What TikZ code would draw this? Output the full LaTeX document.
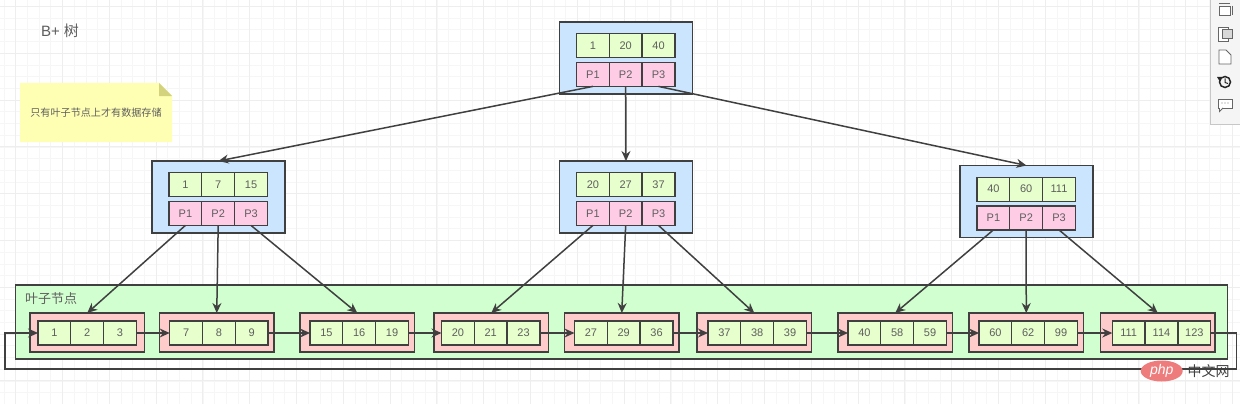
\documentclass[tikz,border=0pt]{standalone}
\usepackage{fontspec}
\setmainfont{Liberation Sans}
\newfontfamily\cjk{Noto Sans CJK SC}
\usetikzlibrary{arrows.meta,calc}
\definecolor{ink}{HTML}{404040}
\definecolor{txt}{HTML}{5E5E5E}
\definecolor{blueb}{HTML}{CCE5FF}
\definecolor{greenc}{HTML}{E6FFCC}
\definecolor{pinkc}{HTML}{FFCCE6}
\definecolor{rosec}{HTML}{FFCCCC}
\definecolor{leafbg}{HTML}{D2FFD0}
\definecolor{notey}{HTML}{FFFFB3}
\definecolor{notef}{HTML}{D3D37E}
\definecolor{gridmin}{HTML}{F6F6F6}
\definecolor{gridmaj}{HTML}{EEEEEE}
\definecolor{wmred}{HTML}{EE7C7C}
\tikzset{
  x=1pt,y=-1pt,
  every node/.style={outer sep=0pt,inner sep=0pt},
  panel/.style={draw=ink,line width=1.3pt,anchor=north west},
  cellbase/.style={draw=ink,line width=1.3pt,minimum width=32.8pt,minimum height=24pt,text=txt,font=\fontsize{11}{13}\selectfont},
  greencell/.style={cellbase,fill=greenc},
  pinkcell/.style={cellbase,fill=pinkc},
  link/.style={draw=ink,line width=1.5pt,-{Stealth[length=10pt,width=9pt]}},
  icon/.style={draw=black!60,line width=0.9pt,fill=white},
}
% \threecells{name}{left x}{centre y}{style}{a}{b}{c}
\newcommand{\threecells}[7]{%
  \node[#4] (#1a) at (#2+16.4,#3) {#5};
  \node[#4] (#1b) at (#2+49.2,#3) {#6};
  \node[#4] (#1c) at (#2+82,#3) {#7};
}
\newcommand{\treenode}[6]{%
  \node[panel,fill=blueb,minimum width=133pt,minimum height=72pt] (#1) at (#2,#3) {};
  \threecells{#1v}{#2+17}{#3+23.7}{greencell}{#4}{#5}{#6}
  \threecells{#1p}{#2+17}{#3+52.4}{pinkcell}{P1}{P2}{P3}
}
% \leafnode{name}{box x}{cells x}{a}{b}{c}
\newcommand{\leafnode}[6]{%
  \node[panel,fill=rosec,minimum width=114.5pt,minimum height=39pt] (#1) at (#2,313) {};
  \threecells{#1c}{#3}{333}{greencell}{#4}{#5}{#6}
}
\begin{document}
\begin{tikzpicture}
\useasboundingbox (0,0) rectangle (1240,404);
\fill[white] (0,0) rectangle (1240,404);
% grid
\foreach \i in {-1,...,105} \draw[gridmin,line width=0.8pt] ({15.7+11.7*\i},0) -- ({15.7+11.7*\i},404);
\foreach \i in {0,...,34} \draw[gridmin,line width=0.8pt] (0,{6.5+11.7*\i}) -- (1240,{6.5+11.7*\i});
\foreach \i in {0,...,26} \draw[gridmaj,line width=0.9pt] ({15.7+46.8*\i},0) -- ({15.7+46.8*\i},404);
\foreach \i in {0,...,8} \draw[gridmaj,line width=0.9pt] (0,{6.5+46.8*\i}) -- (1240,{6.5+46.8*\i});

% title and note
\node[anchor=west,text=txt,font=\fontsize{15}{17}\selectfont] (title) at (41,31) {B+ {\cjk 树}};
\fill[notey] (20,83) -- (159,83) -- (172,96) -- (172,142) -- (20,142) -- cycle;
\fill[notef] (159,83) -- (172,96) -- (159,96) -- cycle;
\node[text=txt,font=\cjk\fontsize{10.1}{13}\selectfont] (note) at (96,113) {只有叶子节点上才有数据存储};

% toolbar
\fill[black!22] (1209.5,-1) -- (1209.5,124.6) -- (1241,124.6) -- (1241,-1) -- cycle;
\fill[white!96!black] (1210.5,-1) rectangle (1241,123.8);
\draw[icon] (1219,6) rectangle (1230,15);
\draw[black!60,line width=0.9pt] (1219,3.5) -- (1230,3.5) (1232.5,6) -- (1232.5,15);
\draw[icon] (1218.5,27) rectangle (1228,41);
\draw[icon,fill=black!15] (1222,29) rectangle (1232,38);
\draw[icon] (1219,50) -- (1226,50) -- (1231,55) -- (1231,64) -- (1219,64) -- cycle;
\draw[black!85,line width=1.5pt] (1225,82) circle[radius=5.5pt];
\fill[black!85] (1217,77) -- (1222,77) -- (1219.5,81) -- cycle;
\draw[black!85,line width=1pt] (1225,78.5) -- (1225,82.5) -- (1228,83.5);
\draw[icon] (1218,99) rectangle (1232,108);
\draw[icon] (1219.5,108) -- (1219.5,111.5) -- (1223,108);
\fill[black!50] (1222,103) circle[radius=0.6pt] (1225,103) circle[radius=0.6pt] (1228,103) circle[radius=0.6pt];

% leaf region
\node[panel,fill=leafbg,minimum width=1212pt,minimum height=74pt] (leafzone) at (15.5,285) {};
\node[anchor=west,text=txt,font=\cjk\fontsize{13}{15}\selectfont] (leaflabel) at (25,299) {叶子节点};

% leaves
\leafnode{l1}{30}{38}{1}{2}{3}
\leafnode{l2}{159.5}{169.7}{7}{8}{9}
\leafnode{l3}{300}{310}{15}{16}{19}
\leafnode{l4}{434}{441.5}{20}{21}{23}
\leafnode{l5}{564.5}{574.5}{27}{29}{36}
\leafnode{l6}{697}{708}{37}{38}{39}
\leafnode{l7}{838}{848}{40}{58}{59}
\leafnode{l8}{969}{979}{60}{62}{99}
\leafnode{l9}{1100.5}{1112.3}{111}{114}{123}

% tree nodes
\treenode{root}{559.5}{22}{1}{20}{40}
\treenode{ml}{152}{161}{1}{7}{15}
\treenode{mm}{559.5}{161}{20}{27}{37}
\treenode{mr}{960}{165.5}{40}{60}{111}

% tree links
\draw[link] (rootpa.south) -- (ml.north);
\draw[link] (rootpb.south) -- (mm.north);
\draw[link] (rootpc.south) -- (mr.north);
\draw[link] (mlpa.south) -- (l1.north);
\draw[link] (mlpb.south) -- (l2.north);
\draw[link] (mlpc.south) -- (l3.north);
\draw[link] (mmpa.south) -- (l4.north);
\draw[link] (mmpb.south) -- (l5.north);
\draw[link] (mmpc.south) -- (l6.north);
\draw[link] (mrpa.south) -- (l7.north);
\draw[link] (mrpb.south) -- (l8.north);
\draw[link] (mrpc.south) -- (l9.north);

% leaf chain
\draw[link] (l1cc.east) -- (l2ca.west);
\draw[link] (l2cc.east) -- (l3ca.west);
\draw[link] (l3cc.east) -- (l4ca.west);
\draw[link] (l4cc.east) -- (l5ca.west);
\draw[link] (l5cc.east) -- (l6ca.west);
\draw[link] (l6cc.east) -- (l7ca.west);
\draw[link] (l7cc.east) -- (l8ca.west);
\draw[link] (l8cc.east) -- (l9ca.west);
\coordinate (loopr) at (1236.7,369);
\coordinate (loopl) at (5,369);
\draw[link] (l9cc.east) -| (loopr) -- (loopl) |- (l1ca.west);

% watermark
\fill[wmred] (1161.7,371) ellipse[x radius=21pt,y radius=10.5pt];
\node[text=white,font=\fontsize{14}{16}\selectfont\itshape] (wmphp) at (1161.7,370.5) {php};
\node[text=ink,font=\cjk\fontsize{14}{16}\selectfont] (wmcn) at (1208.5,371) {中文网};
\end{tikzpicture}
\end{document}
